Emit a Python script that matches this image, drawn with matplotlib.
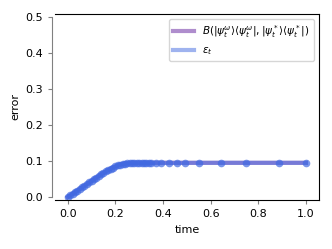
import numpy as np
import matplotlib
matplotlib.use("Agg")
import matplotlib.pyplot as plt

# sample times (adaptive: dense at start, sparse later)
times = [0.00, 0.01, 0.02, 0.03, 0.04, 0.05, 0.06, 0.07, 0.08, 0.09,
         0.10, 0.11, 0.12, 0.13, 0.14, 0.15, 0.16, 0.17, 0.18, 0.19,
         0.20, 0.21, 0.22, 0.23, 0.24, 0.25, 0.26, 0.27, 0.28, 0.29,
         0.30, 0.31, 0.32, 0.33, 0.34, 0.35, 0.371, 0.392, 0.424, 0.458,
         0.491, 0.549, 0.642, 0.750, 0.886, 1.000]
bures = [0.000, 0.0045, 0.009, 0.0135, 0.018, 0.0225, 0.027, 0.0315, 0.036, 0.0405,
         0.045, 0.0495, 0.054, 0.0585, 0.063, 0.067, 0.071, 0.075, 0.079, 0.082,
         0.085, 0.088, 0.090, 0.092, 0.093, 0.094, 0.094, 0.095, 0.095, 0.095,
         0.095, 0.095, 0.095, 0.095, 0.095, 0.095, 0.095, 0.095, 0.095, 0.095,
         0.095, 0.095, 0.095, 0.095, 0.095, 0.095]
eps = [0.000, 0.0045, 0.009, 0.0135, 0.018, 0.0225, 0.027, 0.0315, 0.036, 0.0405,
       0.045, 0.0495, 0.054, 0.0585, 0.063, 0.067, 0.071, 0.075, 0.079, 0.082,
       0.085, 0.088, 0.090, 0.092, 0.093, 0.094, 0.094, 0.095, 0.095, 0.095,
       0.095, 0.095, 0.095, 0.095, 0.095, 0.095, 0.095, 0.095, 0.095, 0.095,
       0.095, 0.095, 0.095, 0.095, 0.095, 0.095]

plt.rcParams['font.size'] = 8

fig = plt.figure(figsize=(3.32, 2.49), dpi=100)
ax = fig.add_axes([0.166, 0.197, 0.795, 0.747])

ax.plot(times, bures, color='#9467bd', lw=3, alpha=0.75,
        label=r'$B(|\psi_t^\omega\rangle\langle\psi_t^\omega|, |\psi_t^*\rangle\langle\psi_t^*|)$')
ax.plot(times, eps, color='#4169e1', lw=3, alpha=0.5,
        label=r'$\varepsilon_t$')
ax.plot(times, eps, color='#4169e1', lw=0, alpha=0.7, marker='o', ms=5.5,
        markeredgewidth=0)

ax.set_xlim(-0.053, 1.055)
ax.set_ylim(-0.008, 0.508)
ax.set_xticks([0.0, 0.2, 0.4, 0.6, 0.8, 1.0])
ax.set_yticks([0.0, 0.1, 0.2, 0.3, 0.4, 0.5])

ax.spines['left'].set_color('gray')
ax.spines['left'].set_bounds(0, 0.5)
ax.spines['left'].set_position(('outward', 2))
ax.tick_params(color='gray', length=3)

ax.set_xlabel('time')
ax.set_ylabel('error')
ax.legend(loc='upper right', fontsize=7.5)

fig.savefig('out.png', dpi=100)
